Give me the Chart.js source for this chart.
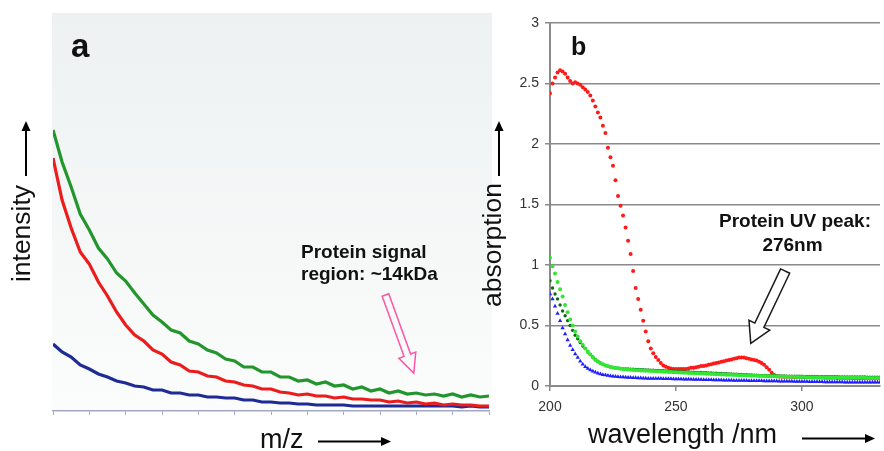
<!DOCTYPE html>
<html>
<head>
<meta charset="utf-8">
<script src="https://cdn.jsdelivr.net/npm/chart.js@4.4.1/dist/chart.umd.min.js"></script>
<style>
  body { margin: 0; background: #fff; }
  #wrap { position: relative; width: 884px; height: 451px; overflow: hidden; }
  #chartA { position: absolute; left: 0; top: 0; }
  #chartB { position: absolute; left: 480px; top: 0; }
</style>
</head>
<body>
<div id="wrap">
  <canvas id="chartA" width="495" height="451"></canvas>
  <canvas id="chartB" width="404" height="451"></canvas>
</div>
<script>
// ---- panel a: mass spectra (arbitrary m/z units, 12 tick intervals) ----
const mzPos = [0, 0.25, 0.5, 0.75, 1, 1.25, 1.5, 1.75, 2, 2.25, 2.5, 2.75, 3, 3.25, 3.5, 3.75,
  4, 4.25, 4.5, 4.75, 5, 5.25, 5.5, 5.75, 6, 6.25, 6.5, 6.75, 7, 7.25, 7.5, 7.75,
  8, 8.25, 8.5, 8.75, 9, 9.25, 9.5, 9.75, 10, 10.25, 10.5, 10.75, 11, 11.25, 11.5, 11.75, 12];
const intensGreen = [281, 249, 224, 197, 181, 163, 152, 138, 130, 118, 107, 96, 89, 81, 78, 70,
  67, 61, 58, 52, 50, 44, 44, 39, 39, 34, 34, 30, 31, 27, 29, 25,
  26, 22, 24, 20, 22, 18, 20, 17, 18, 16, 17, 15, 17, 14, 16, 14, 15];
const intensRed = [253, 211, 183, 159, 147, 129, 115, 99, 86, 76, 70, 61, 57, 49, 46, 40,
  39, 35, 34, 30, 29, 26, 25, 22, 22, 19, 18, 16, 17, 15, 15, 13,
  14, 12, 12, 11, 11, 9, 10, 8, 9, 7, 8, 6, 7, 6, 6, 5, 5];
const intensBlue = [67, 59, 54, 46, 42, 37, 34, 30, 28, 25, 24, 21, 21, 18, 18, 16,
  16, 14, 14, 13, 13, 11, 11, 9, 9, 8, 8, 7, 7, 6, 6, 6,
  6, 5, 5, 5, 5, 5, 5, 5, 5, 5, 5, 5, 5, 4, 5, 4, 4];

// ---- panel b: UV absorption spectra ----
const wavelength = [
  200, 201, 202, 203, 204, 205, 206, 207, 208, 209,
  210, 211, 212, 213, 214, 215, 216, 217, 218, 219,
  220, 221, 222, 223, 224, 225, 226, 227, 228, 229,
  230, 231, 232, 233, 234, 235, 236, 237, 238, 239,
  240, 241, 242, 243, 244, 245, 246, 247, 248, 249,
  250, 251, 252, 253, 254, 255, 256, 257, 258, 259,
  260, 261, 262, 263, 264, 265, 266, 267, 268, 269,
  270, 271, 272, 273, 274, 275, 276, 277, 278, 279,
  280, 281, 282, 283, 284, 285, 286, 287, 288, 289,
  290, 291, 292, 293, 294, 295, 296, 297, 298, 299,
  300, 301, 302, 303, 304, 305, 306, 307, 308, 309,
  310, 311, 312, 313, 314, 315, 316, 317, 318, 319,
  320, 321, 322, 323, 324, 325, 326, 327, 328, 329,
  330, 331];
const absRed = [
  2.42, 2.50, 2.55, 2.59, 2.61, 2.60, 2.58, 2.55, 2.52, 2.50,
  2.51, 2.50, 2.49, 2.47, 2.45, 2.43, 2.40, 2.36, 2.31, 2.26,
  2.22, 2.15, 2.09, 1.97, 1.89, 1.82, 1.70, 1.57, 1.49, 1.41,
  1.31, 1.20, 1.09, 0.95, 0.81, 0.72, 0.63, 0.54, 0.45, 0.37,
  0.31, 0.27, 0.24, 0.215, 0.19, 0.17, 0.16, 0.15, 0.145, 0.14,
  0.14, 0.14, 0.14, 0.14, 0.14, 0.145, 0.15, 0.15, 0.155, 0.16,
  0.165, 0.165, 0.17, 0.175, 0.18, 0.185, 0.19, 0.195, 0.2, 0.205,
  0.21, 0.215, 0.22, 0.225, 0.23, 0.235, 0.235, 0.235, 0.23, 0.225,
  0.22, 0.215, 0.21, 0.2, 0.19, 0.175, 0.155, 0.135, 0.11, 0.09,
  0.08, 0.078, 0.077, 0.077, 0.076, 0.076, 0.075, 0.075, 0.074, 0.074,
  0.073, 0.073, 0.072, 0.072, 0.071, 0.071, 0.07, 0.07, 0.07, 0.069,
  0.069, 0.068, 0.068, 0.068, 0.067, 0.067, 0.067, 0.066, 0.066, 0.066,
  0.065, 0.065, 0.065, 0.065, 0.064, 0.064, 0.064, 0.064, 0.063, 0.063,
  0.063, 0.063];
const absLightGreen = [
  1.06, 0.99, 0.93, 0.86, 0.80, 0.74, 0.67, 0.61, 0.55, 0.50,
  0.45, 0.41, 0.37, 0.34, 0.31, 0.285, 0.26, 0.235, 0.215, 0.2,
  0.19, 0.18, 0.17, 0.163, 0.157, 0.152, 0.148, 0.146, 0.143, 0.14,
  0.138, 0.136, 0.134, 0.132, 0.131, 0.13, 0.129, 0.128, 0.127, 0.126,
  0.125, 0.124, 0.122, 0.121, 0.12, 0.118, 0.117, 0.116, 0.115, 0.114,
  0.113, 0.112, 0.111, 0.11, 0.109, 0.108, 0.107, 0.106, 0.105, 0.105,
  0.104, 0.103, 0.102, 0.101, 0.1, 0.099, 0.098, 0.097, 0.096, 0.095,
  0.094, 0.093, 0.092, 0.091, 0.09, 0.089, 0.088, 0.088, 0.087, 0.086,
  0.085, 0.085, 0.084, 0.083, 0.083, 0.082, 0.081, 0.081, 0.08, 0.08,
  0.079, 0.079, 0.078, 0.078, 0.077, 0.077, 0.076, 0.076, 0.075, 0.075,
  0.074, 0.074, 0.073, 0.073, 0.073, 0.072, 0.072, 0.072, 0.071, 0.071,
  0.071, 0.07, 0.07, 0.07, 0.07, 0.069, 0.069, 0.069, 0.069, 0.069,
  0.068, 0.068, 0.068, 0.068, 0.068, 0.068, 0.067, 0.067, 0.067, 0.067,
  0.067, 0.067];
const absDarkGreen = [
  0.87, 0.81, 0.76, 0.72, 0.67, 0.62, 0.58, 0.54, 0.50, 0.46,
  0.42, 0.39, 0.36, 0.33, 0.31, 0.28, 0.26, 0.24, 0.22, 0.205,
  0.19, 0.18, 0.17, 0.163, 0.157, 0.153, 0.149, 0.147, 0.145, 0.143,
  0.141, 0.14, 0.139, 0.138, 0.137, 0.136, 0.135, 0.134, 0.133, 0.132,
  0.131, 0.13, 0.129, 0.128, 0.127, 0.126, 0.125, 0.124, 0.123, 0.122,
  0.121, 0.12, 0.119, 0.118, 0.117, 0.116, 0.115, 0.114, 0.113, 0.112,
  0.111, 0.11, 0.109, 0.108, 0.107, 0.106, 0.105, 0.104, 0.103, 0.102,
  0.101, 0.1, 0.099, 0.098, 0.097, 0.096, 0.095, 0.094, 0.093, 0.092,
  0.091, 0.09, 0.089, 0.088, 0.088, 0.087, 0.086, 0.086, 0.085, 0.085,
  0.084, 0.084, 0.083, 0.083, 0.082, 0.082, 0.081, 0.081, 0.08, 0.08,
  0.08, 0.079, 0.079, 0.079, 0.078, 0.078, 0.078, 0.077, 0.077, 0.077,
  0.077, 0.076, 0.076, 0.076, 0.076, 0.075, 0.075, 0.075, 0.075, 0.075,
  0.074, 0.074, 0.074, 0.074, 0.074, 0.074, 0.073, 0.073, 0.073, 0.073,
  0.073, 0.073];
const absBlue = [
  0.76, 0.72, 0.66, 0.60, 0.54, 0.48, 0.43, 0.38, 0.335, 0.3,
  0.265, 0.235, 0.205, 0.18, 0.16, 0.145, 0.132, 0.122, 0.113, 0.105,
  0.099, 0.094, 0.09, 0.086, 0.083, 0.08, 0.078, 0.077, 0.075, 0.074,
  0.072, 0.071, 0.07, 0.069, 0.068, 0.067, 0.066, 0.065, 0.064, 0.063,
  0.063, 0.062, 0.062, 0.061, 0.061, 0.06, 0.06, 0.059, 0.059, 0.058,
  0.058, 0.057, 0.057, 0.056, 0.056, 0.055, 0.055, 0.054, 0.054, 0.053,
  0.053, 0.052, 0.052, 0.051, 0.051, 0.05, 0.05, 0.049, 0.049, 0.048,
  0.048, 0.047, 0.047, 0.046, 0.046, 0.046, 0.045, 0.045, 0.045, 0.044,
  0.044, 0.044, 0.043, 0.043, 0.043, 0.042, 0.042, 0.042, 0.041, 0.041,
  0.041, 0.04, 0.04, 0.04, 0.039, 0.039, 0.039, 0.038, 0.038, 0.038,
  0.037, 0.037, 0.037, 0.036, 0.036, 0.036, 0.035, 0.035, 0.035, 0.034,
  0.034, 0.034, 0.034, 0.033, 0.033, 0.033, 0.033, 0.032, 0.032, 0.032,
  0.032, 0.031, 0.031, 0.031, 0.031, 0.031, 0.03, 0.03, 0.03, 0.03,
  0.03, 0.03];
const absTicks = [0, 0.5, 1, 1.5, 2, 2.5, 3];

const FONT = '"Liberation Sans", Arial, sans-serif';

function pairs(xs, ys) {
  return xs.map((x, i) => ({ x: x, y: ys[i] }));
}

// straight arrow with filled head (axis titles)
function solidArrow(ctx, x1, y1, x2, y2) {
  const len = Math.hypot(x2 - x1, y2 - y1);
  const ux = (x2 - x1) / len, uy = (y2 - y1) / len;
  const hl = 10, hw = 4.5;
  ctx.save();
  ctx.strokeStyle = '#000';
  ctx.fillStyle = '#000';
  ctx.lineWidth = 2;
  ctx.beginPath();
  ctx.moveTo(x1, y1);
  ctx.lineTo(x2 - ux * hl, y2 - uy * hl);
  ctx.stroke();
  ctx.beginPath();
  ctx.moveTo(x2, y2);
  ctx.lineTo(x2 - ux * hl - uy * hw, y2 - uy * hl + ux * hw);
  ctx.lineTo(x2 - ux * hl + uy * hw, y2 - uy * hl - ux * hw);
  ctx.closePath();
  ctx.fill();
  ctx.restore();
}

// outlined block arrow (annotations)
function hollowArrow(ctx, x1, y1, x2, y2, sw, hw, hl, stroke, fill) {
  const len = Math.hypot(x2 - x1, y2 - y1);
  const ux = (x2 - x1) / len, uy = (y2 - y1) / len;
  const nx = -uy, ny = ux;
  const bx = x2 - ux * hl, by = y2 - uy * hl;
  ctx.save();
  ctx.beginPath();
  ctx.moveTo(x1 + nx * sw / 2, y1 + ny * sw / 2);
  ctx.lineTo(bx + nx * sw / 2, by + ny * sw / 2);
  ctx.lineTo(bx + nx * hw / 2, by + ny * hw / 2);
  ctx.lineTo(x2, y2);
  ctx.lineTo(bx - nx * hw / 2, by - ny * hw / 2);
  ctx.lineTo(bx - nx * sw / 2, by - ny * sw / 2);
  ctx.lineTo(x1 - nx * sw / 2, y1 - ny * sw / 2);
  ctx.closePath();
  if (fill) { ctx.fillStyle = fill; ctx.fill(); }
  ctx.strokeStyle = stroke;
  ctx.lineWidth = 1.5;
  ctx.lineJoin = 'miter';
  ctx.stroke();
  ctx.restore();
}

function verticalText(ctx, text, x, y, size) {
  ctx.save();
  ctx.translate(x, y);
  ctx.rotate(-Math.PI / 2);
  ctx.font = size + 'px ' + FONT;
  ctx.fillStyle = '#111';
  ctx.textAlign = 'center';
  ctx.textBaseline = 'alphabetic';
  ctx.fillText(text, 0, 0);
  ctx.restore();
}

const decorA = {
  id: 'decorA',
  beforeDraw(chart) {
    const { ctx, chartArea: a } = chart;
    const g = ctx.createLinearGradient(0, a.top, 0, a.bottom);
    g.addColorStop(0, '#edf1f1');
    g.addColorStop(0.6, '#f6f8f8');
    g.addColorStop(1, '#fbfcfc');
    ctx.save();
    ctx.fillStyle = g;
    ctx.fillRect(a.left - 1, a.top, a.right - a.left + 4, a.bottom - a.top);
    ctx.restore();
  },
  afterDraw(chart) {
    const { ctx, scales } = chart;
    const xs = scales.x, ys = scales.y;
    ctx.save();
    ctx.fillStyle = '#111';
    ctx.font = 'bold 33px ' + FONT;
    ctx.fillText('a', 71, 57);
    ctx.font = 'bold 19px ' + FONT;
    ctx.fillText('Protein signal', 301, 257.5);
    ctx.fillText('region: ~14kDa', 301, 279.5);
    ctx.font = '27px ' + FONT;
    ctx.fillText('m/z', 260, 447.5);
    ctx.restore();
    verticalText(ctx, 'intensity', 30, 233.5, 26.5);
    solidArrow(ctx, 26, 176, 26, 121);
    solidArrow(ctx, 318, 441.5, 391, 441.5);
    hollowArrow(ctx,
      xs.getPixelForValue(9.15), ys.getPixelForValue(116),
      xs.getPixelForValue(9.93), ys.getPixelForValue(38),
      7, 18, 19, '#ff55a6', null);
  }
};

const decorB = {
  id: 'decorB',
  afterDraw(chart) {
    const { ctx, scales } = chart;
    const xs = scales.x, ys = scales.y;
    ctx.save();
    ctx.fillStyle = '#111';
    ctx.font = 'bold 25px ' + FONT;
    ctx.fillText('b', 91, 55);
    ctx.font = 'bold 19px ' + FONT;
    ctx.textAlign = 'center';
    ctx.fillText('Protein UV peak:', 315, 227);
    ctx.fillText('276nm', 312.5, 250.5);
    ctx.textAlign = 'left';
    ctx.font = '27px ' + FONT;
    ctx.fillText('wavelength /nm', 108, 442.5);
    ctx.restore();
    verticalText(ctx, 'absorption', 21, 245, 26.5);
    solidArrow(ctx, 19, 176, 19, 121);
    solidArrow(ctx, 322, 438.5, 395, 438.5);
    hollowArrow(ctx,
      xs.getPixelForValue(293.35), ys.getPixelForValue(0.95),
      xs.getPixelForValue(279.7), ys.getPixelForValue(0.353),
      10, 23, 20, '#1a1a1a', '#ffffff');
  }
};

function lineSet(data, color) {
  return {
    data: pairs(mzPos, data),
    borderColor: color,
    borderWidth: 3.2,
    pointRadius: 0,
    tension: 0,
    fill: false
  };
}

new Chart(document.getElementById('chartA'), {
  type: 'line',
  data: {
    datasets: [
      lineSet(intensGreen, '#22962c'),
      lineSet(intensRed, '#ec1c1c'),
      lineSet(intensBlue, '#1e2b96')
    ]
  },
  options: {
    responsive: false,
    animation: false,
    layout: { padding: { left: 53, right: 6, top: 13, bottom: 0 } },
    plugins: { legend: { display: false }, tooltip: { enabled: false } },
    scales: {
      x: {
        type: 'linear', min: 0, max: 12,
        ticks: { display: false, stepSize: 1 },
        grid: { display: true, drawOnChartArea: false, drawTicks: true, tickLength: 4, color: '#a4a8c4', lineWidth: 1 },
        border: { display: true, color: '#a4a8c4', width: 1.5 },
        afterFit(s) { s.height = 40; }
      },
      y: { type: 'linear', min: 0, max: 398, display: false }
    }
  },
  plugins: [decorA]
});

function dotSet(ys, color, radius, style) {
  return {
    data: pairs(wavelength, ys),
    backgroundColor: color,
    borderColor: color,
    borderWidth: 0,
    pointRadius: radius,
    pointStyle: style,
    showLine: false
  };
}

new Chart(document.getElementById('chartB'), {
  type: 'scatter',
  data: {
    datasets: [
      dotSet(absLightGreen, '#33e633', 2, 'circle'),
      dotSet(absDarkGreen, '#0b6a12', 1.7, 'circle'),
      dotSet(absBlue, '#1f1fff', 2.5, 'triangle'),
      dotSet(absRed, '#ff1a1a', 2, 'circle')
    ]
  },
  options: {
    responsive: false,
    animation: false,
    layout: { padding: { left: 0, right: 0, top: 23, bottom: 0 } },
    plugins: { legend: { display: false }, tooltip: { enabled: false } },
    scales: {
      x: {
        type: 'linear', min: 200, max: 331,
        ticks: { stepSize: 50, includeBounds: false, color: '#333', padding: 8, maxRotation: 0,
                 font: { family: FONT, size: 14 } },
        grid: { display: true, drawOnChartArea: false, drawTicks: true, tickLength: 5, color: '#8a8a8a', lineWidth: 1.5 },
        border: { display: true, color: '#8a8a8a', width: 2 },
        afterFit(s) { s.height = 65; }
      },
      y: {
        type: 'linear', min: 0, max: 3,
        afterBuildTicks(s) { s.ticks = absTicks.map(v => ({ value: v })); },
        ticks: { color: '#333', padding: 6, font: { family: FONT, size: 14 },
                 callback: v => String(v) },
        grid: { color: '#8a8a8a', lineWidth: 1.5, drawTicks: true, tickLength: 5 },
        border: { display: true, color: '#8a8a8a', width: 2 },
        afterFit(s) { s.width = 70; }
      }
    }
  },
  plugins: [decorB]
});
</script>
</body>
</html>
